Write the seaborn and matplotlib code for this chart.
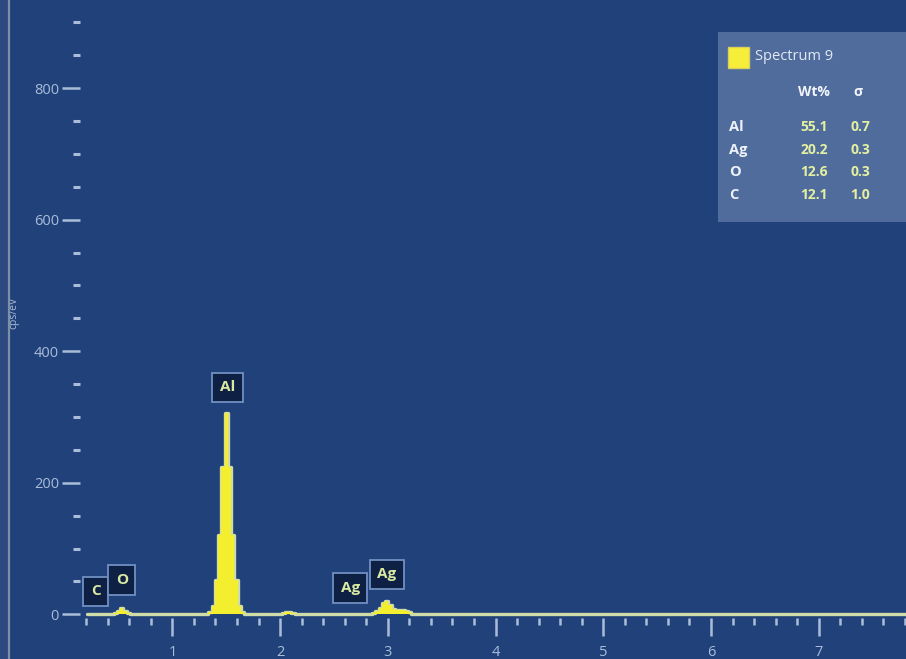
import numpy as np
import matplotlib.pyplot as plt
import seaborn as sns
from matplotlib.patches import Rectangle
from matplotlib.ticker import FixedLocator

# --- EDS spectrum (channel centre keV, cps/eV) ---
energy = [0.21, 0.44, 0.47, 0.50, 0.53, 0.56, 0.59, 0.62,
          1.32, 1.35, 1.38, 1.41, 1.44, 1.47, 1.50, 1.53, 1.56, 1.59, 1.62, 1.65, 1.68,
          2.00, 2.03, 2.06, 2.09, 2.12, 2.15,
          2.84, 2.87, 2.90, 2.93, 2.96, 2.99, 3.02, 3.05, 3.08, 3.11, 3.14, 3.17, 3.20, 3.23, 3.26,
          7.95]
counts = [0, 0, 2, 5, 9, 5, 2, 0,
          0, 4, 12, 52, 120, 224, 306, 224, 120, 52, 12, 4, 0,
          0, 2, 3, 3, 2, 0,
          0, 2, 5, 10, 17, 20, 14, 8, 6, 6, 6, 5, 3, 1, 0,
          0]

# peak markers
peak_names = ["C", "O", "Al", "Ag", "Ag"]
peak_x = [0.29, 0.53, 1.51, 2.65, 2.99]
peak_y = [35, 52, 345, 40, 61]

# quantification table
quant_elements = ["Al", "Ag", "O", "C"]
quant_wt = ["55.1", "20.2", "12.6", "12.1"]
quant_sigma = ["0.7", "0.3", "0.3", "1.0"]
spectrum_name = "Spectrum 9"

W, H = 906, 659
BG = "#21417b"
TICK = "#a9bdd9"


def px(x, y):
    # pixel position -> axes fraction
    return x / W, 1 - y / H


sns.set_theme(style="dark", rc={"axes.facecolor": BG, "figure.facecolor": BG})
plt.rcParams["font.family"] = ["Open Sans", "DejaVu Sans"]

fig = plt.figure(figsize=(W / 100, H / 100), dpi=100)
ax = fig.add_axes([0, 0, 1, 1])
ax.set_facecolor(BG)

# spectrum outline + fill
sns.lineplot(x=energy, y=counts, ax=ax, drawstyle="steps-mid",
             color="#cfdca8", lw=2.4, zorder=2)
ax.fill_between(energy, counts, step="mid", color="#f3ee2e", lw=0, zorder=3)

ax.set_xlim(-0.60, 7.81)
ax.set_ylim(-68, 934)

# axes / ticks
for s in ["top", "right"]:
    ax.spines[s].set_visible(False)
ax.spines["left"].set_position(("data", 0.14))
ax.spines["bottom"].set_position(("data", -6))
ax.spines["left"].set_color("none")
ax.spines["bottom"].set_color("none")

ax.yaxis.set_major_locator(FixedLocator([0, 200, 400, 600, 800]))
ax.yaxis.set_minor_locator(FixedLocator(np.arange(50, 901, 50)))
ax.xaxis.set_major_locator(FixedLocator([1, 2, 3, 4, 5, 6, 7]))
ax.xaxis.set_minor_locator(FixedLocator(np.arange(0.2, 7.81, 0.2)))

ax.tick_params(axis="y", which="major", direction="out", length=13, width=1.8,
               color=TICK, labelcolor=TICK, labelsize=10.5, pad=2, left=True)
ax.tick_params(axis="y", which="minor", direction="out", length=5, width=2.2,
               color=TICK, left=True)
ax.tick_params(axis="x", which="major", direction="out", length=13, width=1.8,
               color=TICK, labelcolor=TICK, labelsize=10.5, pad=6, bottom=True)
ax.tick_params(axis="x", which="minor", direction="out", length=5, width=1.8,
               color=TICK, bottom=True)
ax.grid(False)
ax.set_xlabel("")
ax.set_ylabel("")

# y axis title, partly hidden at the window edge
ax.text(*px(14, 313), "cps/eV", transform=ax.transAxes, rotation=90,
        ha="center", va="center", color=TICK, fontsize=7.5)
# window border on the left
ax.add_patch(Rectangle((0, 0), 8 / W, 1, transform=ax.transAxes,
                       facecolor="#2c4a80", edgecolor="none", zorder=5))
ax.plot([8.5 / W, 8.5 / W], [0, 1], transform=ax.transAxes,
        color="#7d8ea6", lw=1.6, zorder=6)

# peak labels
for name, x, y in zip(peak_names, peak_x, peak_y):
    ax.text(x, y, name, ha="center", va="center", color="#dbe8a2", fontsize=11,
            fontweight="bold", zorder=7,
            bbox=dict(boxstyle="square,pad=0.5", fc="#0e2145", ec="#7090c2", lw=1.3))

# quantification panel
x0, y0 = px(718, 222)
ax.add_patch(Rectangle((x0, y0), (W - 718) / W, 190 / H, transform=ax.transAxes,
                       facecolor="#4f6c9d", edgecolor="none", zorder=8))
sx, sy = px(728, 68)
ax.add_patch(Rectangle((sx, sy), 21 / W, 21 / H, transform=ax.transAxes,
                       facecolor="#f6ee38", edgecolor="#d8d060", lw=1, zorder=9))
ax.text(*px(755, 57), spectrum_name, transform=ax.transAxes, ha="left", va="center",
        color="#e2e9f3", fontsize=10.5, zorder=9)
ax.text(*px(814, 92), "Wt%", transform=ax.transAxes, ha="center", va="center",
        color="#f2f5fa", fontsize=10, fontweight="bold", zorder=9)
ax.text(*px(858, 92), "σ", transform=ax.transAxes, ha="center", va="center",
        color="#f2f5fa", fontsize=10, fontweight="bold", zorder=9)
row_y = [127, 150, 172, 195]
for el, wt, sg, ry in zip(quant_elements, quant_wt, quant_sigma, row_y):
    ax.text(*px(729, ry), el, transform=ax.transAxes, ha="left", va="center",
            color="#eef2f8", fontsize=10.5, fontweight="bold", zorder=9)
    ax.text(*px(814, ry), wt, transform=ax.transAxes, ha="center", va="center",
            color="#e4f0a0", fontsize=10, fontweight="bold", zorder=9)
    ax.text(*px(860, ry), sg, transform=ax.transAxes, ha="center", va="center",
            color="#e4f0a0", fontsize=10, fontweight="bold", zorder=9)

fig.savefig("out.png", dpi=100, facecolor=BG)
